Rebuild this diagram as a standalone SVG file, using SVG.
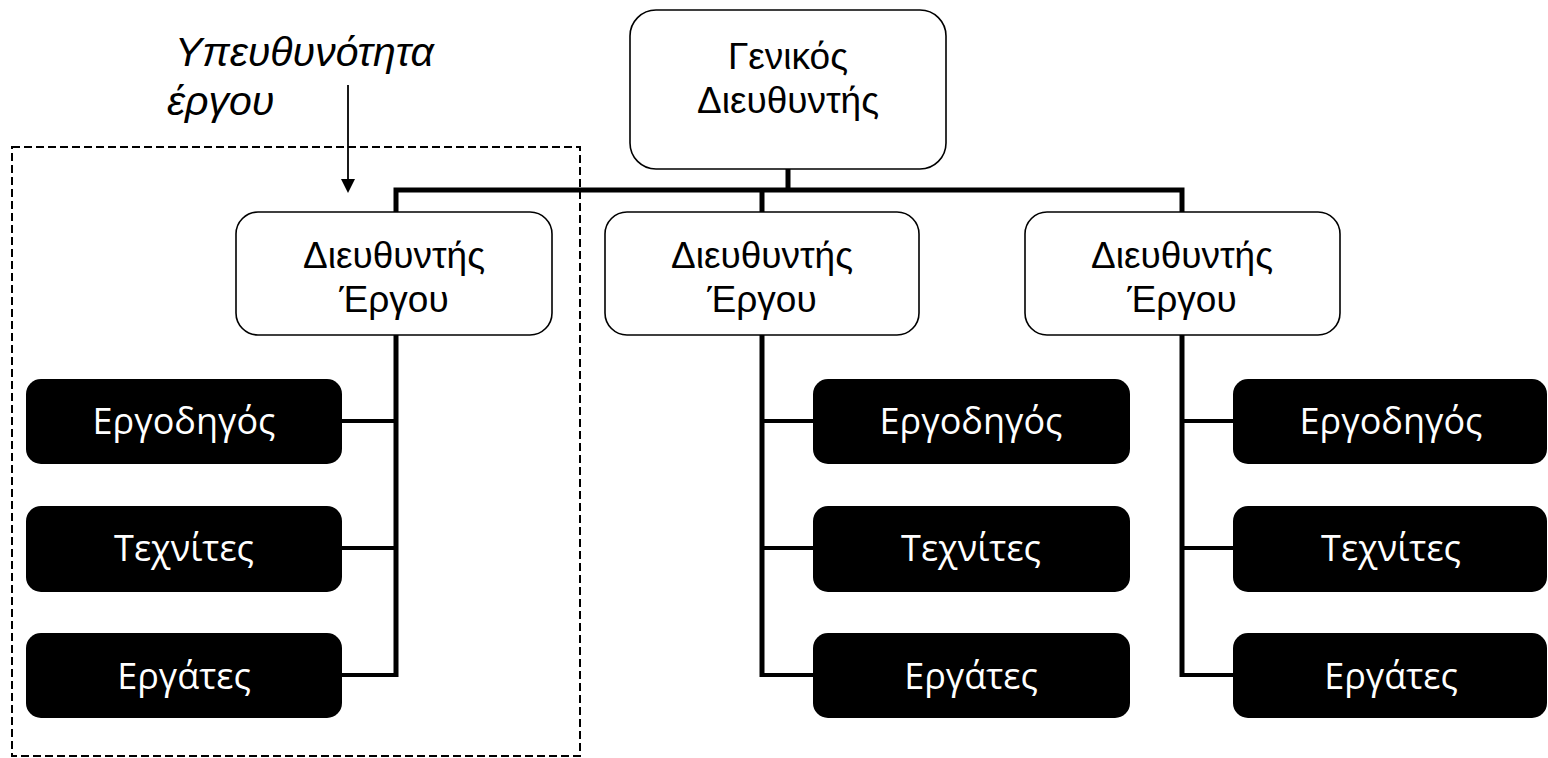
<svg xmlns="http://www.w3.org/2000/svg" width="1548" height="758" viewBox="0 0 1548 758">
<style>
.wn{fill:#fff;stroke:#000;stroke-width:1.6}
.bn{fill:#000}
.wt{font-family:"Liberation Sans",Arial,sans-serif;font-size:37px;fill:#000;text-anchor:middle}
.bt{font-family:"Open Sans","DejaVu Sans",sans-serif;font-size:36px;fill:#fff;text-anchor:middle}
.it{font-family:"Liberation Sans",Arial,sans-serif;font-size:41px;font-style:italic;fill:#000}
.thick{stroke:#000;stroke-width:5;fill:none}
.thin{stroke:#000;stroke-width:4;fill:none}
</style>
<g id="annotation">
<text class="it" x="175" y="66">Υπευθυνότητα</text>
<text class="it" x="167" y="115">έργου</text>
<line x1="348" y1="85" x2="348" y2="181" stroke="#000" stroke-width="1.8"/>
<polygon points="341,179 355,179 348,193" fill="#000"/>
<rect x="12" y="147" width="568" height="609" fill="none" stroke="#000" stroke-width="2" stroke-dasharray="8 4"/>
</g>
<g id="connectors">
<path class="thick" d="M788,169 V190 M396,212 V190 H1182 V212 M762,190 V212"/>
<path class="thick" d="M396,335 V677"/>
<path class="thin" d="M342,421 H396 M342,548 H396 M342,675 H396"/>
<path class="thick" d="M762,335 V677"/>
<path class="thin" d="M762,421 H813 M762,548 H813 M762,675 H813"/>
<path class="thick" d="M1182,335 V677"/>
<path class="thin" d="M1182,421 H1233 M1182,548 H1233 M1182,675 H1233"/>
</g>
<g id="n-gm">
<rect class="wn" x="630" y="10" width="316" height="159" rx="26"/>
<text class="wt" x="788" y="69">Γενικός</text>
<text class="wt" x="788" y="113">Διευθυντής</text>
</g>
<g id="n-pm1">
<rect class="wn" x="236" y="212" width="316" height="123" rx="22"/>
<text class="wt" x="394" y="268">Διευθυντής</text>
<text class="wt" x="394" y="312">Έργου</text>
</g>
<g id="n-pm2">
<rect class="wn" x="605" y="212" width="314" height="123" rx="22"/>
<text class="wt" x="762" y="268">Διευθυντής</text>
<text class="wt" x="762" y="312">Έργου</text>
</g>
<g id="n-pm3">
<rect class="wn" x="1025" y="212" width="315" height="123" rx="22"/>
<text class="wt" x="1182" y="268">Διευθυντής</text>
<text class="wt" x="1182" y="312">Έργου</text>
</g>
<g id="n-f1"><rect class="bn" x="26" y="379" width="316" height="85" rx="15"/><text class="bt" x="184" y="434">Εργοδηγός</text></g>
<g id="n-t1"><rect class="bn" x="26" y="506" width="316" height="86" rx="15"/><text class="bt" x="184" y="561">Τεχνίτες</text></g>
<g id="n-w1"><rect class="bn" x="26" y="633" width="316" height="85" rx="15"/><text class="bt" x="184" y="689">Εργάτες</text></g>
<g id="n-f2"><rect class="bn" x="813" y="379" width="317" height="85" rx="15"/><text class="bt" x="971" y="434">Εργοδηγός</text></g>
<g id="n-t2"><rect class="bn" x="813" y="506" width="317" height="86" rx="15"/><text class="bt" x="971" y="561">Τεχνίτες</text></g>
<g id="n-w2"><rect class="bn" x="813" y="633" width="317" height="85" rx="15"/><text class="bt" x="971" y="689">Εργάτες</text></g>
<g id="n-f3"><rect class="bn" x="1233" y="379" width="314" height="85" rx="15"/><text class="bt" x="1391" y="434">Εργοδηγός</text></g>
<g id="n-t3"><rect class="bn" x="1233" y="506" width="314" height="86" rx="15"/><text class="bt" x="1391" y="561">Τεχνίτες</text></g>
<g id="n-w3"><rect class="bn" x="1233" y="633" width="314" height="85" rx="15"/><text class="bt" x="1391" y="689">Εργάτες</text></g>
</svg>
